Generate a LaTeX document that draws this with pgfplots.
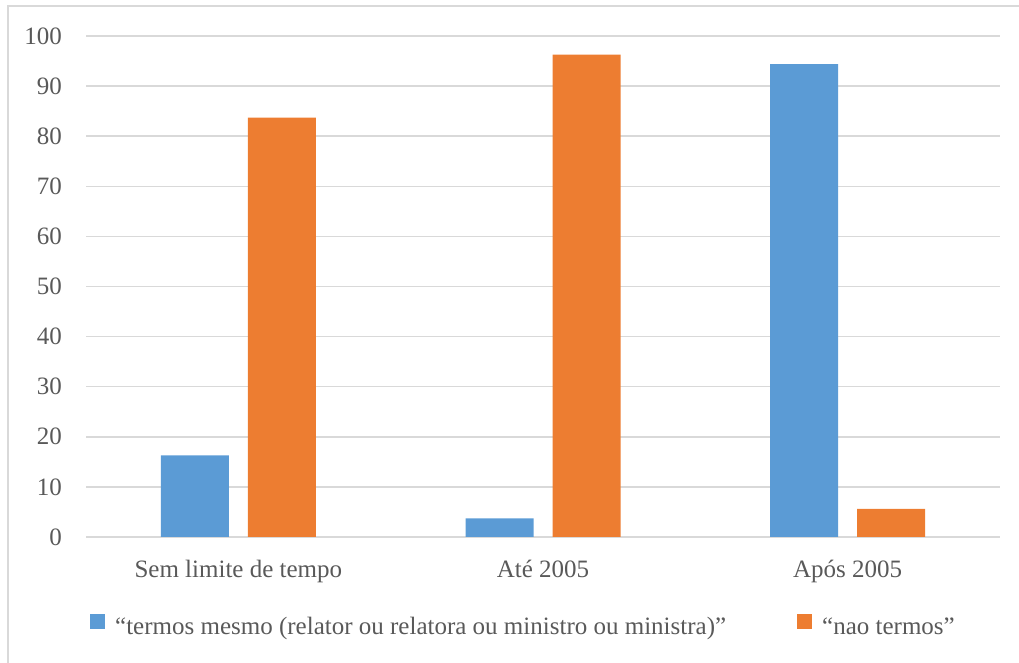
\documentclass[border=0pt]{standalone}
\usepackage{fontspec}
\setmainfont{Liberation Serif}
\usepackage{pgfplots}
\pgfplotsset{compat=1.18}
\definecolor{cblue}{HTML}{5B9BD5}
\definecolor{corange}{HTML}{ED7D31}
\definecolor{ctext}{HTML}{595959}
\definecolor{cgrid}{HTML}{D9D9D9}
\begin{document}
\fontsize{25}{29}\selectfont
\begin{tikzpicture}[x=1pt,y=1pt]
\path[use as bounding box] (0,0) rectangle (1019,663);
\draw[cgrid, line width=2pt] (8,0) -- (8,657) -- (1019,657);
\begin{axis}[
  at={(86pt,126pt)}, anchor=south west,
  scale only axis, width=914pt, height=501pt,
  ybar=19pt, bar width=68pt,
  xmin=-0.5, xmax=2.5, ymin=0, ymax=100,
  ytick={0,10,...,100},
  xtick={0,1,2},
  xticklabels={Sem limite de tempo, Até 2005, Após 2005},
  axis line style={draw=none},
  major tick length=0pt,
  ymajorgrids, grid style={cgrid, line width=1.5pt},
  /pgf/number format/assume math mode=true,
  ticklabel style={font=\fontsize{25}{29}\selectfont, text=ctext},
  yticklabel style={anchor=east, inner sep=0pt, xshift=-24pt},
  xticklabel style={anchor=base, inner sep=0pt, yshift=-41pt},
  every axis plot post/.append style={legend image code/.code={\fill[##1] (0pt,-1pt) rectangle (15pt,14pt);}},
  legend columns=2,
  legend style={at={(0.00438,-0.1796)}, anchor=west, draw=none, fill=none, inner sep=0pt,
    font=\fontsize{25}{29}\selectfont, text=ctext},
]
\addplot[draw=none, fill=cblue] coordinates {(0,16.3) (1,3.7) (2,94.4)};
\addplot[draw=none, fill=corange] coordinates {(0,83.7) (1,96.3) (2,5.6)};
\legend{\hspace{8pt}\makebox[680pt][l]{“termos mesmo (relator ou relatora ou ministro ou ministra)”}, \hspace{8pt}“nao termos”}
\end{axis}
\end{tikzpicture}
\end{document}
